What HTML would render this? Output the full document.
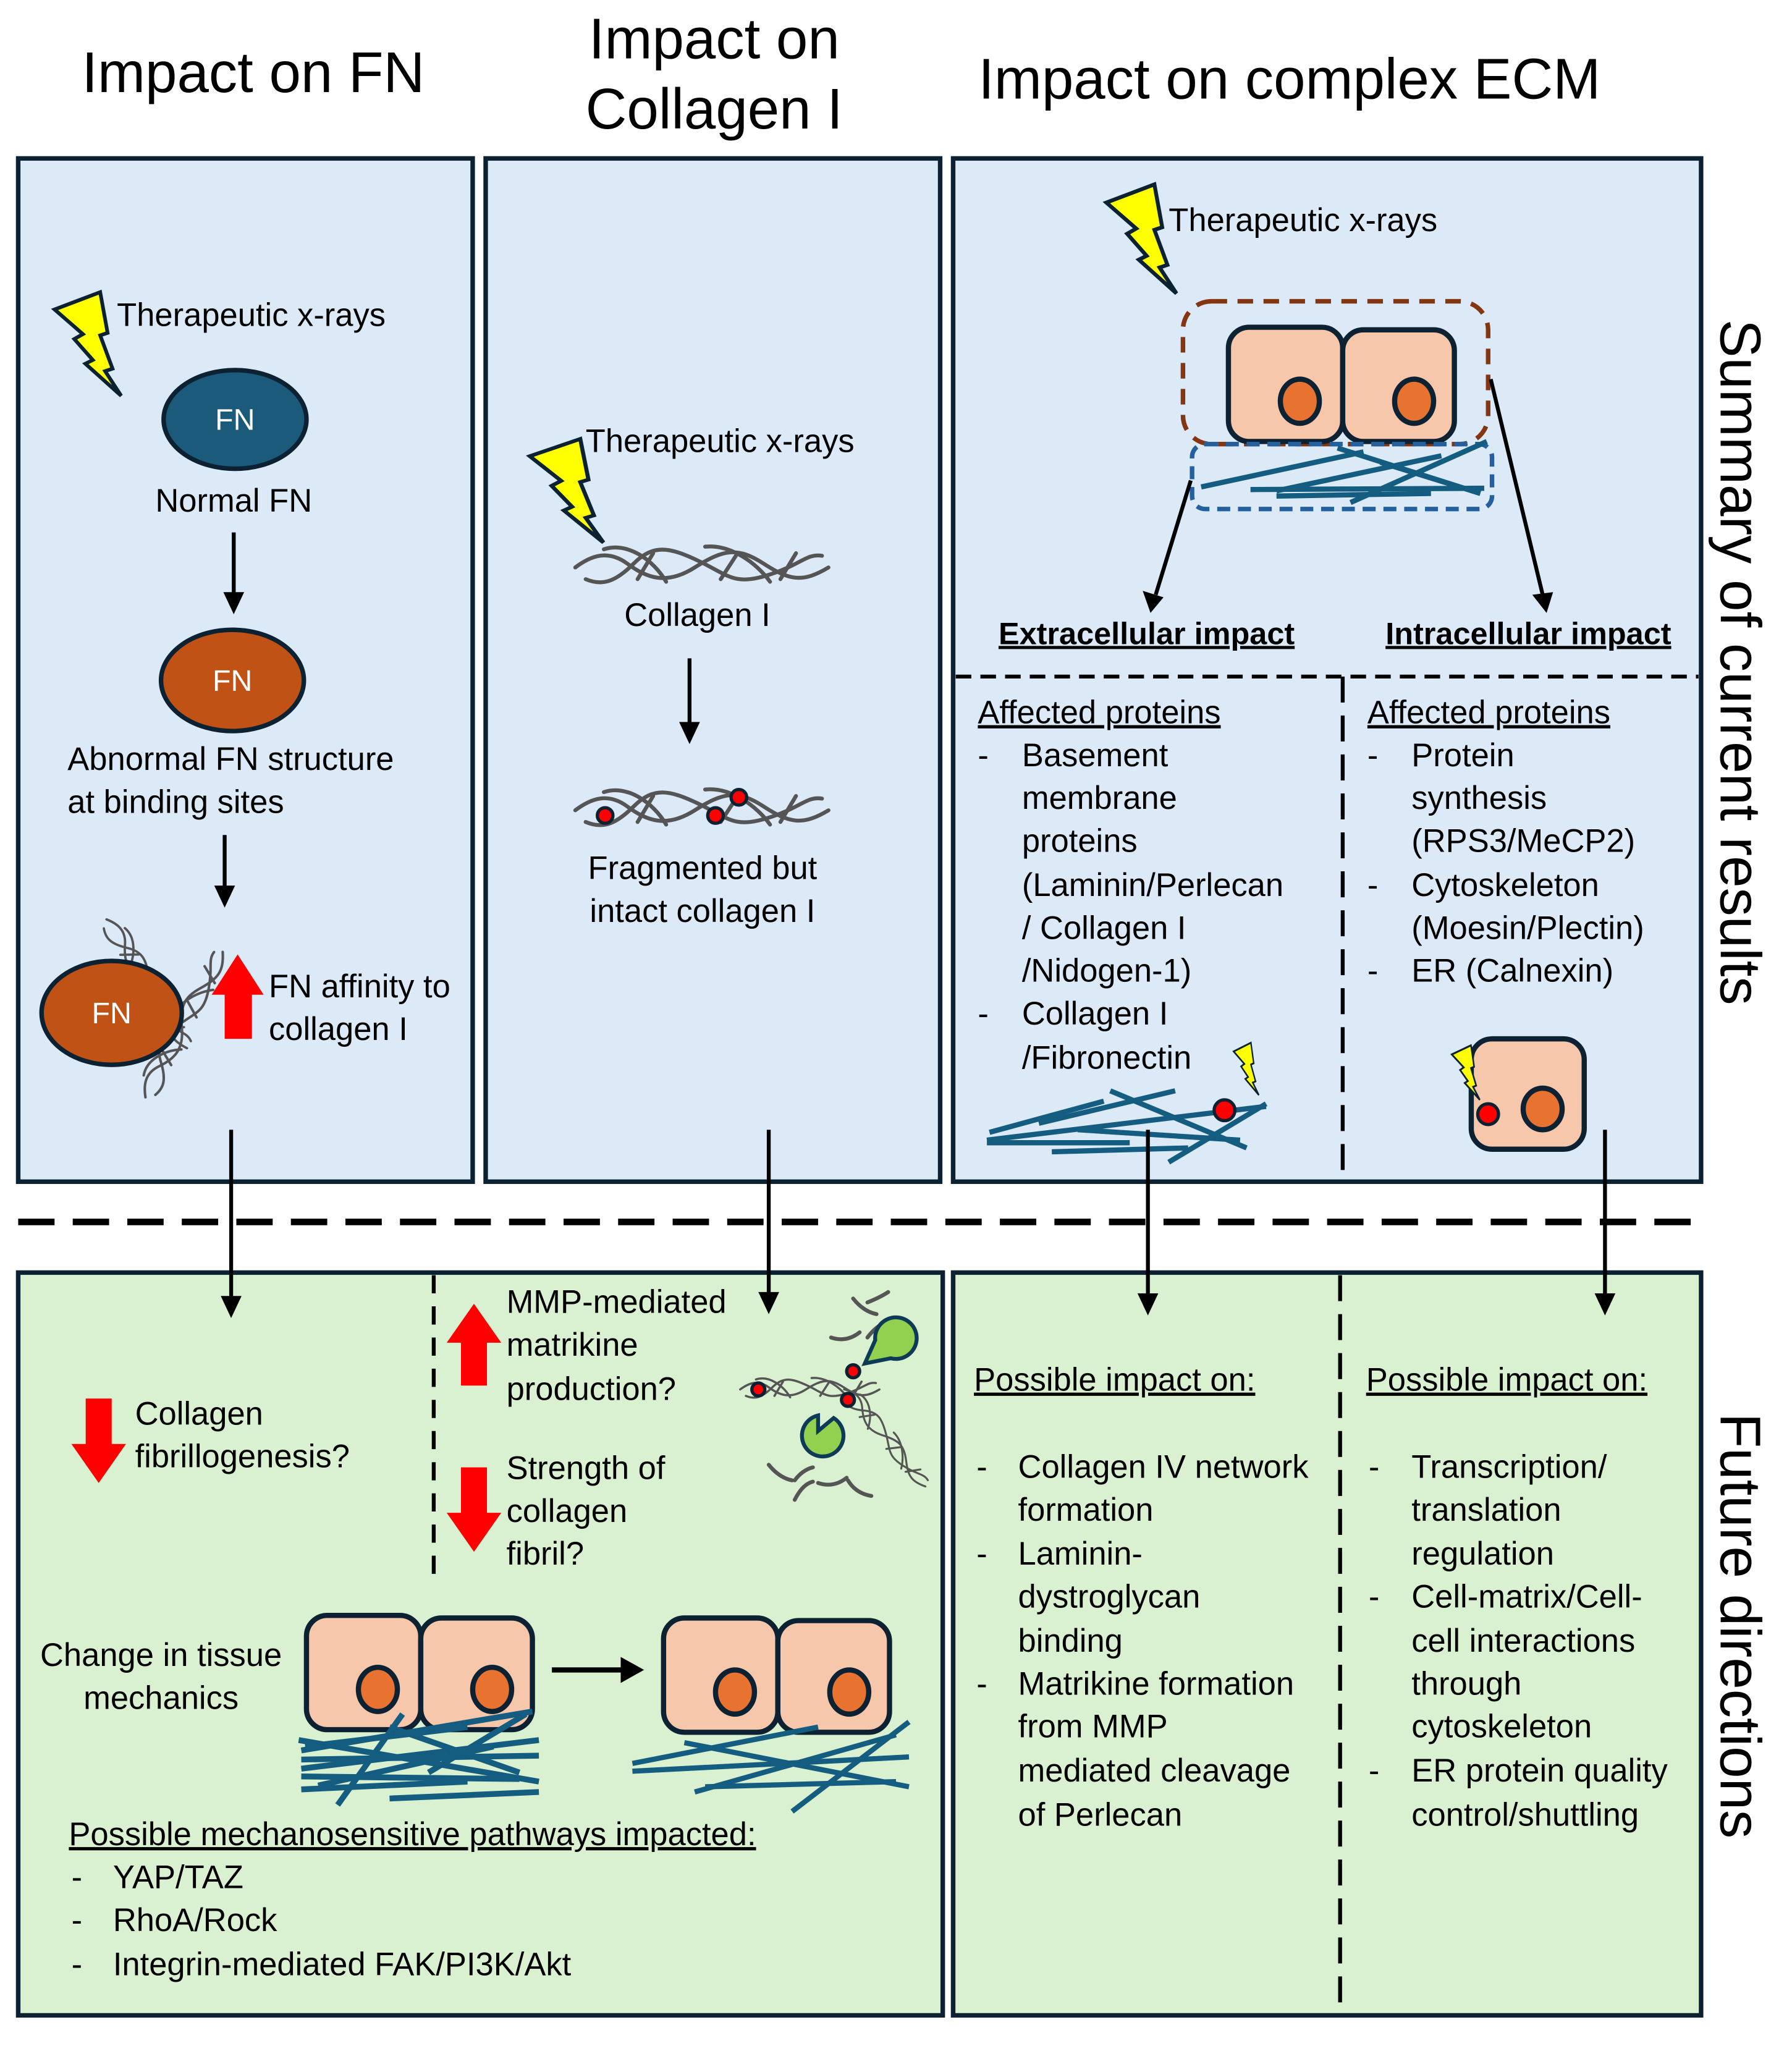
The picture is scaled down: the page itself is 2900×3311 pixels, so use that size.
<!DOCTYPE html>
<html><head><meta charset="utf-8">
<style>
html,body{margin:0;padding:0;background:#fff;}
svg{display:block;}
text{font-family:"Liberation Sans",sans-serif;fill:#000;}
</style></head><body>
<svg xmlns="http://www.w3.org/2000/svg" width="2900" height="3311" viewBox="0 0 1380 1575.6">
<defs>
<g id="bolt">
<polygon points="0,14 37,0 43,33 37,35 47,62 41,64 54,84 25,58 31,55 16,38 23,34" fill="#ffff00" stroke="#0c2233" stroke-width="3" stroke-linejoin="miter"/>
</g>
<g id="strand" fill="none" stroke="#555" stroke-width="3" stroke-linecap="round">
<path d="M0,0 C12,-9 25,-14 40,-3 S70,14 92,0 S125,-16 145,-3 S175,12 195,0"/>
<path d="M8,9 C20,14 30,12 45,-3 S72,-16 95,-5 S122,14 148,6 S178,-11 190,-9"/>
<path d="M22,-14 C40,-20 60,-6 70,11 M100,-16 C120,-18 140,-3 150,11"/>
<path d="M60,-11 L48,9 M125,-11 L112,9 M170,-11 L158,9"/>
</g>
<g id="cell2">
<rect x="0" y="0" width="88" height="88" rx="16" fill="#f6c7ab" stroke="#0c2233" stroke-width="4"/>
<rect x="88" y="2" width="86" height="86" rx="16" fill="#f6c7ab" stroke="#0c2233" stroke-width="4"/>
<ellipse cx="55" cy="57" rx="15" ry="17" fill="#e87331" stroke="#0c2233" stroke-width="4"/>
<ellipse cx="143" cy="57" rx="15" ry="17" fill="#e87331" stroke="#0c2233" stroke-width="4"/>
</g>
</defs>

<!-- headings -->
<text x="195" y="71" font-size="44" text-anchor="middle">Impact on FN</text>
<text x="550" y="45" font-size="44" text-anchor="middle">Impact on</text>
<text x="550" y="99" font-size="44" text-anchor="middle">Collagen I</text>
<text x="993" y="76" font-size="44" text-anchor="middle">Impact on complex ECM</text>
<text transform="translate(1325,510) rotate(90)" font-size="44" text-anchor="middle">Summary of current results</text>
<text transform="translate(1325,1252) rotate(90)" font-size="44" text-anchor="middle">Future directions</text>

<!-- top panels -->
<rect x="14" y="122" width="350" height="788" fill="#dce9f6" stroke="#0c2233" stroke-width="3.5"/>
<rect x="374" y="122" width="350" height="788" fill="#dce9f6" stroke="#0c2233" stroke-width="3.5"/>
<rect x="734" y="122" width="576" height="788" fill="#dce9f6" stroke="#0c2233" stroke-width="3.5"/>
<!-- bottom panels -->
<rect x="14" y="980" width="712" height="572" fill="#d9f1d0" stroke="#0c2233" stroke-width="3.5"/>
<rect x="734" y="980" width="576" height="572" fill="#d9f1d0" stroke="#0c2233" stroke-width="3.5"/>

<line x1="14" y1="941" x2="1310" y2="941" stroke="#000" stroke-width="5" stroke-dasharray="28,14"/>

<!-- Panel 1 -->
<use href="#bolt" transform="translate(42,225) scale(0.95)"/>
<text x="90" y="251" font-size="25">Therapeutic x-rays</text>
<ellipse cx="181" cy="323" rx="55" ry="38" fill="#1b5a7b" stroke="#0c2233" stroke-width="3.5"/>
<text x="181" y="331" font-size="23" text-anchor="middle" style="fill:#fff">FN</text>
<text x="180" y="394" font-size="25" text-anchor="middle">Normal FN</text>
<line x1="180" y1="410" x2="180" y2="458" stroke="#000" stroke-width="3"/>
<polygon points="172,456 188,456 180,473" fill="#000"/>
<ellipse cx="179" cy="524" rx="55" ry="39" fill="#c05216" stroke="#0c2233" stroke-width="3.5"/>
<text x="179" y="532" font-size="23" text-anchor="middle" style="fill:#fff">FN</text>
<text x="52" y="593" font-size="25">Abnormal FN structure</text>
<text x="52" y="626" font-size="25">at binding sites</text>
<line x1="173" y1="643" x2="173" y2="684" stroke="#000" stroke-width="3"/>
<polygon points="165,682 181,682 173,699" fill="#000"/>
<use href="#strand" transform="translate(82,708) rotate(58) scale(0.6)"/>
<use href="#strand" transform="translate(112,845) rotate(-62) scale(0.65)"/>
<ellipse cx="86" cy="780" rx="54" ry="40" fill="#c05216" stroke="#0c2233" stroke-width="3.5"/>
<text x="86" y="788" font-size="23" text-anchor="middle" style="fill:#fff">FN</text>
<polygon points="173,800 173,766 163,766 183,735 203,766 194,766 194,800" fill="#f00"/>
<text x="207" y="768" font-size="25">FN affinity to</text>
<text x="207" y="801" font-size="25">collagen I</text>
<line x1="178" y1="870" x2="178" y2="1000" stroke="#000" stroke-width="3"/>
<polygon points="170,998 186,998 178,1015" fill="#000"/>

<!-- Panel 2 -->
<use href="#bolt" transform="translate(408,338) scale(1.05,0.95)"/>
<text x="451" y="348" font-size="25">Therapeutic x-rays</text>
<use href="#strand" transform="translate(443,437)"/>
<text x="537" y="482" font-size="25" text-anchor="middle">Collagen I</text>
<line x1="531" y1="507" x2="531" y2="558" stroke="#000" stroke-width="3"/>
<polygon points="523,556 539,556 531,573" fill="#000"/>
<use href="#strand" transform="translate(443,624)"/>
<circle cx="466" cy="628" r="6" fill="#f00" stroke="#0c2233" stroke-width="2.5"/>
<circle cx="551" cy="628" r="6" fill="#f00" stroke="#0c2233" stroke-width="2.5"/>
<circle cx="569" cy="614" r="6" fill="#f00" stroke="#0c2233" stroke-width="2.5"/>
<text x="541" y="677" font-size="25" text-anchor="middle">Fragmented but</text>
<text x="541" y="710" font-size="25" text-anchor="middle">intact collagen I</text>
<line x1="592" y1="870" x2="592" y2="997" stroke="#000" stroke-width="3"/>
<polygon points="584,995 600,995 592,1012" fill="#000"/>

<!-- Panel 3 -->
<use href="#bolt" transform="translate(852,142)"/>
<text x="900" y="178" font-size="25">Therapeutic x-rays</text>
<rect x="911" y="232" width="235" height="110" rx="22" fill="none" stroke="#843511" stroke-width="3.5" stroke-dasharray="12,8"/>
<use href="#cell2" transform="translate(946,252)"/>
<rect x="918" y="342" width="231" height="50" rx="10" fill="none" stroke="#245f9e" stroke-width="3.5" stroke-dasharray="10,6"/>
<g stroke="#155d80" stroke-width="4">
<line x1="963" y1="377" x2="1143" y2="376"/>
<line x1="1063" y1="356" x2="1140" y2="380"/>
<line x1="1030" y1="345" x2="1140" y2="380"/>
<line x1="983" y1="382" x2="1102" y2="380"/>
<line x1="983" y1="378" x2="1110" y2="351"/>
<line x1="1040" y1="387" x2="1145" y2="340"/>
<line x1="925" y1="375" x2="1050" y2="348"/>
</g>
<line x1="917" y1="370" x2="890" y2="458" stroke="#000" stroke-width="3"/>
<polygon points="880,455 896,460 886,472" fill="#000"/>
<line x1="1148" y1="292" x2="1188" y2="458" stroke="#000" stroke-width="3"/>
<polygon points="1180,458 1196,456 1191,472" fill="#000"/>
<text x="883" y="496" font-size="24" font-weight="bold" text-anchor="middle" text-decoration="underline">Extracellular impact</text>
<text x="1177" y="496" font-size="24" font-weight="bold" text-anchor="middle" text-decoration="underline">Intracellular impact</text>
<line x1="736" y1="521" x2="1308" y2="521" stroke="#000" stroke-width="3" stroke-dasharray="12,7"/>
<line x1="1034" y1="521" x2="1034" y2="908" stroke="#000" stroke-width="3" stroke-dasharray="20,10"/>
<g font-size="25">
<text x="753" y="557" text-decoration="underline">Affected proteins</text>
<text x="753" y="590">-</text><text x="787" y="590">Basement</text>
<text x="787" y="623">membrane</text>
<text x="787" y="656">proteins</text>
<text x="787" y="690">(Laminin/Perlecan</text>
<text x="787" y="723">/ Collagen I</text>
<text x="787" y="756">/Nidogen-1)</text>
<text x="753" y="789">-</text><text x="787" y="789">Collagen I</text>
<text x="787" y="823">/Fibronectin</text>
<text x="1053" y="557" text-decoration="underline">Affected proteins</text>
<text x="1053" y="590">-</text><text x="1087" y="590">Protein</text>
<text x="1087" y="623">synthesis</text>
<text x="1087" y="656">(RPS3/MeCP2)</text>
<text x="1053" y="690">-</text><text x="1087" y="690">Cytoskeleton</text>
<text x="1087" y="723">(Moesin/Plectin)</text>
<text x="1053" y="756">-</text><text x="1087" y="756">ER (Calnexin)</text>
</g>
<use href="#bolt" transform="translate(950,803) scale(0.36,0.48)"/>
<g stroke="#155d80" stroke-width="4">
<line x1="760" y1="878" x2="975" y2="852"/><line x1="762" y1="872" x2="850" y2="848"/>
<line x1="800" y1="865" x2="905" y2="840"/><line x1="855" y1="840" x2="960" y2="884"/>
<line x1="760" y1="880" x2="870" y2="880"/><line x1="810" y1="887" x2="915" y2="884"/>
<line x1="900" y1="895" x2="975" y2="850"/><line x1="830" y1="870" x2="955" y2="878"/>
</g>
<circle cx="943" cy="855" r="8" fill="#f00" stroke="#0c2233" stroke-width="2.5"/>
<rect x="1133" y="800" width="87" height="85" rx="16" fill="#f6c7ab" stroke="#0c2233" stroke-width="4"/>
<ellipse cx="1188" cy="854" rx="15" ry="16" fill="#e87331" stroke="#0c2233" stroke-width="4"/>
<circle cx="1146" cy="858" r="8" fill="#f00" stroke="#0c2233" stroke-width="2.5"/>
<use href="#bolt" transform="translate(1118,805) scale(0.4,0.5)"/>
<line x1="884" y1="870" x2="884" y2="998" stroke="#000" stroke-width="3"/>
<polygon points="876,996 892,996 884,1013" fill="#000"/>
<line x1="1236" y1="870" x2="1236" y2="998" stroke="#000" stroke-width="3"/>
<polygon points="1228,996 1244,996 1236,1013" fill="#000"/>

<!-- Bottom left -->
<line x1="334" y1="982" x2="334" y2="1222" stroke="#000" stroke-width="3" stroke-dasharray="14,10"/>
<polygon points="66,1077 86,1077 86,1112 97,1112 76,1142 55,1112 66,1112" fill="#f00"/>
<text x="104" y="1097" font-size="25">Collagen</text>
<text x="104" y="1130" font-size="25">fibrillogenesis?</text>
<polygon points="355,1067 375,1067 375,1034 386,1034 365,1004 344,1034 355,1034" fill="#f00"/>
<text x="390" y="1011" font-size="25">MMP-mediated</text>
<text x="390" y="1044" font-size="25">matrikine</text>
<text x="390" y="1078" font-size="25">production?</text>
<polygon points="355,1130 375,1130 375,1165 386,1165 365,1195 344,1165 355,1165" fill="#f00"/>
<text x="390" y="1139" font-size="25">Strength of</text>
<text x="390" y="1172" font-size="25">collagen</text>
<text x="390" y="1205" font-size="25">fibril?</text>
<use href="#strand" transform="translate(570,1070) scale(0.55)"/>
<use href="#strand" transform="translate(650,1070) rotate(50) scale(0.5)"/>
<g fill="none" stroke="#555" stroke-width="3" stroke-linecap="round">
<path d="M657,1000 q8,10 18,12 M668,1003 q10,-4 16,-8 M640,1030 q12,4 22,-4 M668,1030 q6,-8 14,-12 M685,1036 q10,4 20,-2"/>
<path d="M592,1128 q8,10 18,12 M612,1140 q6,-8 14,-10 M630,1142 q12,4 22,-4 M612,1155 q6,-12 14,-14 M653,1140 q6,10 18,12"/>
</g>
<path d="M684,1048 L664,1052 L672,1034 A16,16 0 1,1 684,1048 Z" transform="translate(2,-2)" fill="#92d050" stroke="#0d3b57" stroke-width="3"/>
<path d="M630,1102 L630,1090 A16,16 0 1,0 642,1092 Z" fill="#92d050" stroke="#0d3b57" stroke-width="3"/>
<circle cx="584" cy="1070" r="5" fill="#f00" stroke="#0c2233" stroke-width="2.5"/>
<circle cx="657" cy="1056" r="5" fill="#f00" stroke="#0c2233" stroke-width="2.5"/>
<circle cx="653" cy="1078" r="5" fill="#f00" stroke="#0c2233" stroke-width="2.5"/>
<text x="124" y="1283" font-size="25" text-anchor="middle">Change in tissue</text>
<text x="124" y="1316" font-size="25" text-anchor="middle">mechanics</text>
<use href="#cell2" transform="translate(236,1244)"/>
<g stroke="#155d80" stroke-width="4.5">
<line x1="230" y1="1340" x2="415" y2="1372"/><line x1="232" y1="1348" x2="410" y2="1318"/>
<line x1="232" y1="1355" x2="415" y2="1352"/><line x1="232" y1="1362" x2="415" y2="1340"/>
<line x1="232" y1="1368" x2="400" y2="1370"/><line x1="260" y1="1390" x2="310" y2="1320"/>
<line x1="300" y1="1385" x2="415" y2="1380"/><line x1="300" y1="1330" x2="400" y2="1365"/>
<line x1="245" y1="1375" x2="380" y2="1345"/><line x1="330" y1="1365" x2="405" y2="1320"/>
<line x1="235" y1="1345" x2="360" y2="1330"/><line x1="232" y1="1378" x2="360" y2="1372"/>
</g>
<line x1="425" y1="1286" x2="480" y2="1286" stroke="#000" stroke-width="4"/>
<polygon points="478,1276 496,1286 478,1296" fill="#000"/>
<use href="#cell2" transform="translate(511,1246)"/>
<g stroke="#155d80" stroke-width="4">
<line x1="487" y1="1358" x2="630" y2="1330"/><line x1="487" y1="1364" x2="700" y2="1353"/>
<line x1="527" y1="1342" x2="700" y2="1376"/><line x1="535" y1="1380" x2="690" y2="1336"/>
<line x1="543" y1="1376" x2="690" y2="1372"/><line x1="610" y1="1395" x2="700" y2="1326"/>
</g>
<g font-size="25">
<text x="53" y="1421" text-decoration="underline">Possible mechanosensitive pathways impacted:</text>
<text x="55" y="1454">-</text><text x="87" y="1454">YAP/TAZ</text>
<text x="55" y="1487">-</text><text x="87" y="1487">RhoA/Rock</text>
<text x="55" y="1521">-</text><text x="87" y="1521">Integrin-mediated FAK/PI3K/Akt</text>
</g>

<!-- Bottom right -->
<line x1="1032" y1="982" x2="1032" y2="1550" stroke="#000" stroke-width="3" stroke-dasharray="20,10"/>
<g font-size="25">
<text x="750" y="1071" text-decoration="underline">Possible impact on:</text>
<text x="752" y="1138">-</text><text x="784" y="1138">Collagen IV network</text>
<text x="784" y="1171">formation</text>
<text x="752" y="1205">-</text><text x="784" y="1205">Laminin-</text>
<text x="784" y="1238">dystroglycan</text>
<text x="784" y="1272">binding</text>
<text x="752" y="1305">-</text><text x="784" y="1305">Matrikine formation</text>
<text x="784" y="1338">from MMP</text>
<text x="784" y="1372">mediated cleavage</text>
<text x="784" y="1406">of Perlecan</text>
<text x="1052" y="1071" text-decoration="underline">Possible impact on:</text>
<text x="1054" y="1138">-</text><text x="1087" y="1138">Transcription/</text>
<text x="1087" y="1171">translation</text>
<text x="1087" y="1205">regulation</text>
<text x="1054" y="1238">-</text><text x="1087" y="1238">Cell-matrix/Cell-</text>
<text x="1087" y="1272">cell interactions</text>
<text x="1087" y="1305">through</text>
<text x="1087" y="1338">cytoskeleton</text>
<text x="1054" y="1372">-</text><text x="1087" y="1372">ER protein quality</text>
<text x="1087" y="1406">control/shuttling</text>
</g>
</svg>
</body></html>
